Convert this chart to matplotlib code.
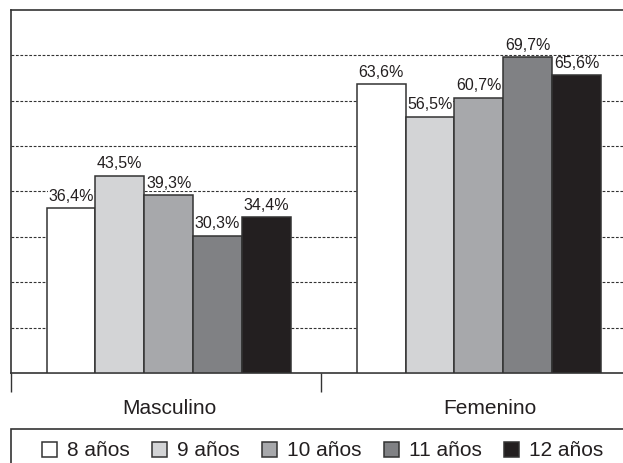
import matplotlib.pyplot as plt
import matplotlib.patches as mpatches
import numpy as np

plt.rcParams['font.family'] = ['Liberation Sans', 'DejaVu Sans']

grupos = ['Masculino', 'Femenino']
edades = ['8 años', '9 años', '10 años', '11 años', '12 años']
valores = {
    '8 años': [36.4, 63.6],
    '9 años': [43.5, 56.5],
    '10 años': [39.3, 60.7],
    '11 años': [30.3, 69.7],
    '12 años': [34.4, 65.6],
}
colores = ['#ffffff', '#d3d4d6', '#a7a8ab', '#808184', '#231f20']
texto = '#231f20'

fig = plt.figure(figsize=(6.23, 4.63), dpi=100)
ax = fig.add_axes([10.5 / 623, 1 - 373 / 463, 623.5 / 623, 363 / 463])

x = np.arange(len(grupos))
ancho = 0.1575
for i, edad in enumerate(edades):
    pos = x + (i - 2) * ancho
    barras = ax.bar(pos, valores[edad], ancho, color=colores[i],
                    edgecolor='#333333', linewidth=1.1, zorder=3, label=edad)
    for b, v in zip(barras, valores[edad]):
        ax.annotate(f'{v:.1f}%'.replace('.', ','),
                    (b.get_x() + b.get_width() / 2, v),
                    xytext=(0, 3), textcoords='offset points',
                    ha='center', va='bottom', fontsize=11.5, color=texto,
                    bbox=dict(facecolor='white', edgecolor='none', pad=0.5),
                    zorder=4)

ax.set_xlim(-0.51, 1.5)
ax.set_ylim(0, 80)
ax.set_yticks(range(10, 80, 10))
ax.yaxis.grid(True, linestyle=(0, (2.5, 1.5)), linewidth=0.8, color='#333333', zorder=0)
ax.tick_params(axis='y', left=False, labelleft=False)

# etiquetas de grupo (Femenino algo desplazado, como en el original)
ax.set_xticks([0.003, 1.035])
ax.set_xticklabels(grupos, fontsize=15, color=texto)
ax.set_xticks([-0.51, 0.49], minor=True)
ax.tick_params(axis='x', which='major', length=0, pad=19)
ax.tick_params(axis='x', which='minor', length=14, width=1.0, color='#333333')

for s in ax.spines.values():
    s.set_color('#333333')
    s.set_linewidth(1.2)
ax.spines['right'].set_visible(False)

# recuadro de la leyenda
fig.patches.append(mpatches.Rectangle((10.5 / 623, -0.1), 1.2, 0.1 + (463 - 429) / 463,
                                      transform=fig.transFigure, fill=False,
                                      edgecolor='#333333', linewidth=1.2))

fig.legend(loc='center', bbox_to_anchor=(322.5 / 623, 1 - 451 / 463), ncol=5,
           frameon=False, fontsize=15, handlelength=0.72, handleheight=0.72,
           handletextpad=0.5, columnspacing=1.05, labelcolor=texto,
           borderpad=0, borderaxespad=0)

fig.savefig('out.png', dpi=100)
